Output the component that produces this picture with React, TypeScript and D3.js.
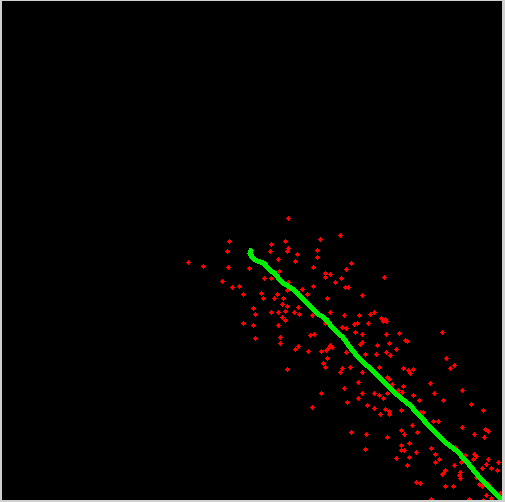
import React from 'react';
import * as d3 from 'd3';

// scatter observations (x, y) in plot units
const pointX = [
  286, 227, 269, 283, 225, 268, 286, 285, 276, 186, 201, 226, 247, 277, 262, 269, 286, 220, 230, 237,
  285, 259, 275, 241, 261, 272, 281, 280, 285, 251, 283, 269, 276, 253, 280, 283, 241, 251, 276, 253,
  278, 278,
  338, 318, 315, 295, 315, 293, 349, 311, 344, 323, 328, 323, 339, 382, 333, 311, 343, 346, 300, 305,
  360, 325, 296, 292, 297, 328, 310, 342, 357, 368, 372, 379, 383, 381, 384, 323, 352, 355, 366, 340,
  344, 353, 360, 384, 308, 312, 397, 360, 358, 375, 387, 296, 293, 328, 326, 330, 324, 306, 319, 344,
  363, 374, 384, 394, 388,
  440, 403, 405,
  325, 321, 323, 340, 338, 348, 360, 377, 385, 387, 390, 356, 342, 396, 319, 360, 372, 377, 385, 356,
  381, 345, 310, 365, 372, 383, 387, 387, 378, 349, 364, 385, 363, 394, 285,
  444, 452, 448, 401, 406, 408, 411, 428, 401, 400, 460, 432, 411, 417, 441, 469, 481, 399, 418, 421,
  431, 436, 410, 460, 399, 402, 415, 472, 483, 486, 482, 407, 399, 429, 453, 399, 402, 414, 433, 463,
  472, 474, 407, 437, 471, 486, 433, 496, 405, 452, 459, 484, 480, 489, 495, 443, 441, 440, 458, 457,
  458, 474, 477, 480, 486, 414, 418, 443, 451, 484, 489, 481, 429, 467, 498,
];
const pointY = [
  283, 260, 257, 260, 250, 250, 253, 250, 241, 238, 234, 233, 232, 229, 222, 222, 218, 219, 213, 214,
  210, 207, 206, 206, 202, 202, 202, 196, 194, 192, 189, 188, 188, 186, 183, 180, 177, 175, 175, 162,
  163, 157,
  266, 262, 251, 246, 243, 239, 237, 233, 231, 227, 226, 223, 222, 223, 218, 214, 213, 213, 211, 206,
  205, 202, 193, 188, 186, 188, 185, 185, 185, 186, 188, 182, 181, 179, 179, 177, 176, 177, 177, 173,
  172, 168, 166, 166, 165, 166, 167, 158, 156, 155, 157, 154, 151, 155, 152, 153, 150, 149, 149, 148,
  146, 146, 148, 151, 145,
  168, 160, 159,
  142, 137, 133, 132, 128, 133, 128, 133, 123, 121, 116, 118, 112, 110, 107, 107, 107, 105, 107, 102,
  102, 98, 93, 95, 92, 91, 89, 86, 86, 68, 66, 63, 51, 42, 131,
  142, 135, 132, 132, 130, 127, 131, 117, 114, 108, 110, 107, 105, 100, 100, 96, 90, 90, 88, 88,
  79, 79, 75, 73, 70, 66, 68, 66, 71, 69, 63, 57, 55, 52, 53, 50, 50, 48, 46, 45,
  46, 44, 43, 41, 41, 41, 38, 38, 35, 35, 38, 36, 32, 32, 30, 30, 27, 26, 28, 25,
  22, 23, 16, 14, 16, 18, 17, 14, 14, 5, 2, 0, 1, 1, 7,
];

// smoothed fit
const fitX = [
  249, 248, 251, 256, 261, 264, 268, 273, 276, 280, 285, 291, 296, 300, 305, 310, 315, 320, 325, 330,
  335, 341, 348, 356, 368, 378, 388, 398, 408, 418, 431, 443, 455, 465, 478, 490, 498,
];
const fitY = [
  250, 247, 242, 239, 238, 235, 230, 227, 223, 218, 215, 211, 207, 202, 197, 192, 187, 184, 180, 173,
  168, 163, 153, 143, 132, 122, 112, 103, 95, 84, 70, 58, 49, 38, 22, 10, 2,
];

const W = 505;
const H = 502;
const plot = { left: 2, top: 1, right: 502, bottom: 500 };

// 5px plus with a 3x3 core
const marker = 'M-0.5,-2.5h1v1h1v1h1v1h-1v1h-1v1h-1v-1h-1v-1h-1v-1h1v-1h1z';

export default function App() {
  const x = d3.scaleLinear().domain([0, 500]).range([plot.left, plot.right]);
  const y = d3.scaleLinear().domain([0, 500]).range([plot.bottom, plot.top]);

  const points = pointX.map((v, i) => ({ x: v, y: pointY[i] }));
  const fit = fitX.map((v, i) => ({ x: v, y: fitY[i] }));

  const line = d3.line<{ x: number; y: number }>()
    .x(d => x(d.x))
    .y(d => y(d.y));

  return (
    <div style={{ position: 'absolute', left: 0, top: 0, width: W, height: H, background: '#d0d0d0' }}>
      <svg width={W} height={H} style={{ display: 'block' }}>
        <defs>
          <clipPath id="plot-clip">
            <rect x={plot.left} y={plot.top} width={plot.right - plot.left} height={plot.bottom - plot.top} />
          </clipPath>
        </defs>
        <rect x={plot.left} y={plot.top} width={plot.right - plot.left} height={plot.bottom - plot.top} fill="#000" />
        <g clipPath="url(#plot-clip)">
          {points.map((d, i) => (
            <path
              key={i}
              d={marker}
              transform={`translate(${Math.round(x(d.x)) + 0.5},${Math.round(y(d.y)) + 0.5})`}
              fill="#ff0000"
              shapeRendering="crispEdges"
            />
          ))}
          <path d={line(fit)!} fill="none" stroke="#00ee00" strokeWidth={5} strokeLinejoin="round" strokeLinecap="round" shapeRendering="crispEdges" />
        </g>
      </svg>
    </div>
  );
}
